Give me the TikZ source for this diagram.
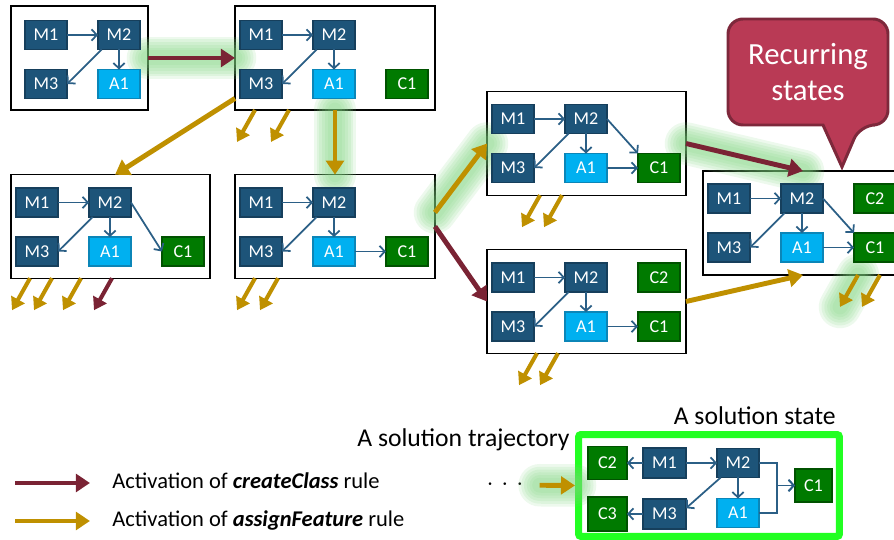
\documentclass[tikz,border=0pt]{standalone}
\usepackage{fontspec}
\setmainfont{Carlito}
\usepackage{tikz}
\usetikzlibrary{positioning, arrows.meta}
\definecolor{mblue}{HTML}{1D5479}
\definecolor{mborder}{HTML}{163F5C}
\definecolor{ablue}{HTML}{00B0F0}
\definecolor{aborder}{HTML}{0B86B8}
\definecolor{cgreen}{HTML}{007A00}
\definecolor{cborder}{HTML}{005200}
\definecolor{linkc}{HTML}{2B5F86}
\definecolor{crim}{HTML}{7A2334}
\definecolor{gold}{HTML}{BF9000}
\definecolor{glowc}{HTML}{7ED47E}
\definecolor{bubble}{HTML}{B93A55}
\definecolor{bubbleedge}{HTML}{7D283B}
\definecolor{solgreen}{HTML}{22FF22}

\begin{document}
\begin{tikzpicture}[x=0.02cm, y=-0.02cm, node distance=0.4cm and 0.62cm]
    \tikzset{
        elem/.style={rectangle, line width=1.1pt, minimum width=0.84cm, minimum height=0.58cm,
                     inner sep=0pt, outer sep=0pt, text=white, font=\fontsize{10.3}{12}\selectfont},
        method/.style={elem, draw=mborder, fill=mblue},
        attr/.style={elem, draw=aborder, fill=ablue},
        cls/.style={elem, draw=cborder, fill=cgreen},
        state/.style={rectangle, draw=black, line width=0.6pt, outer sep=0pt,
                      minimum width=4cm, minimum height=2.07cm},
        link/.style={draw=linkc, line width=1pt, -{Straight Barb[length=3pt, width=6.5pt]}},
        create/.style={draw=crim, line width=2.8pt, -{Triangle[length=8pt, width=10pt]}},
        assign/.style={draw=gold, line width=2.8pt, -{Triangle[length=8pt, width=10pt]}},
        stub/.style={line width=2.3pt, -{Triangle[length=7pt, width=8.5pt]}},
        halo/.style={preaction={draw=glowc, arrows=-, line cap=round, line width=#1, opacity=0.14}},
        glow/.style={halo=0.85cm, halo=0.74cm, halo=0.63cm, halo=0.52cm, halo=0.41cm, halo=0.3cm},
        legend/.style={inner sep=0pt, font=\fontsize{12.8}{15}\selectfont},
        caption/.style={inner sep=0pt, font=\fontsize{14.6}{17}\selectfont},
        sol/.style={draw=solgreen, line width=0.14cm, rounded corners=0.05cm,
                    minimum width=5.22cm, minimum height=2.04cm}
    }
    \useasboundingbox (0,0) rectangle (894,540);
    \clip (0,0) rectangle (894,540);

    % state frames
    \node[state, minimum width=2.74cm, minimum height=2.08cm] (s1) at (79.5,58) {};
    \node[state, minimum height=2.08cm] (s2) at (335,58) {};
    \node[state, minimum width=3.98cm] (s3) at (110.5,226.5) {};
    \node[state] (s4) at (335,226.5) {};
    \node[state, minimum width=3.98cm] (s5) at (586.5,143.5) {};
    \node[state, minimum width=3.98cm] (s6) at (586.5,301.5) {};
    \node[state, minimum height=2.08cm] (s7) at (803,223) {};

    % rule activations
    \draw[create, glow] (s1) -- (s2);
    \draw[assign] (s2.202) -- (s3.85);
    \draw[assign, glow] (s2) -- (s4);
    \draw[assign, glow] (s4.8) -- (s5.west);
    \draw[create] (s4.east) -- (s6.west);
    \draw[create, glow] (s5.east) -- (s7.north);
    \draw[assign] (s6.east) -- (s7.south);

    \draw[assign, stub] ([xshift=0.4cm]s2.south west) -- ++(-18,32);
    \draw[assign, stub] ([xshift=1.08cm]s2.south west) -- ++(-18,32);
    \draw[assign, stub] ([xshift=0.38cm]s3.south west) -- ++(-18,32);
    \draw[assign, stub] ([xshift=0.82cm]s3.south west) -- ++(-18,32);
    \draw[assign, stub] ([xshift=1.4cm]s3.south west) -- ++(-18,32);
    \draw[create, stub] ([xshift=2.02cm]s3.south west) -- ++(-18,32);
    \draw[assign, stub] ([xshift=0.4cm]s4.south west) -- ++(-18,32);
    \draw[assign, stub] ([xshift=0.86cm]s4.south west) -- ++(-18,32);
    \draw[assign, stub] ([xshift=1.06cm]s5.south west) -- ++(-18,32);
    \draw[assign, stub] ([xshift=1.5cm]s5.south west) -- ++(-18,32);
    \draw[assign, stub] ([xshift=1.0cm]s6.south west) -- ++(-18,32);
    \draw[assign, stub] ([xshift=1.42cm]s6.south west) -- ++(-18,32);
    \draw[assign, stub, glow] ([xshift=3.1cm]s7.south west) -- ++(-18,32);
    \draw[assign, stub] ([xshift=3.54cm]s7.south west) -- ++(-18,32);

    % state 1
    \node[method] (s1m1) at (46,35) {M1};
    \node[method, right=of s1m1] (s1m2) {M2};
    \node[method, below=of s1m1] (s1m3) {M3};
    \node[attr, below=of s1m2] (s1a1) {A1};
    \draw[link] (s1m1) -- (s1m2);
    \draw[link] (s1m2.220) -- (s1m3.east);
    \draw[link] (s1m2) -- (s1a1);

    % state 2
    \node[method] (s2m1) at (261,35) {M1};
    \node[method, right=of s2m1] (s2m2) {M2};
    \node[method, below=of s2m1] (s2m3) {M3};
    \node[attr, below=of s2m2] (s2a1) {A1};
    \node[cls, right=of s2a1] (s2c1) {C1};
    \draw[link] (s2m1) -- (s2m2);
    \draw[link] (s2m2.220) -- (s2m3.east);
    \draw[link] (s2m2) -- (s2a1);

    % state 3
    \node[method] (s3m1) at (37,202.5) {M1};
    \node[method, right=of s3m1] (s3m2) {M2};
    \node[method, below=of s3m1] (s3m3) {M3};
    \node[attr, below=of s3m2] (s3a1) {A1};
    \node[cls, right=of s3a1] (s3c1) {C1};
    \draw[link] (s3m1) -- (s3m2);
    \draw[link] (s3m2.220) -- (s3m3.east);
    \draw[link] (s3m2) -- (s3a1);
    \draw[link] (s3m2.east) -- (s3c1.west);

    % state 4
    \node[method] (s4m1) at (261,202.5) {M1};
    \node[method, right=of s4m1] (s4m2) {M2};
    \node[method, below=of s4m1] (s4m3) {M3};
    \node[attr, below=of s4m2] (s4a1) {A1};
    \node[cls, right=of s4a1] (s4c1) {C1};
    \draw[link] (s4m1) -- (s4m2);
    \draw[link] (s4m2.220) -- (s4m3.east);
    \draw[link] (s4m2) -- (s4a1);
    \draw[link] (s4a1) -- (s4c1);

    % state 5
    \node[method] (s5m1) at (513,119) {M1};
    \node[method, right=of s5m1] (s5m2) {M2};
    \node[method, below=of s5m1] (s5m3) {M3};
    \node[attr, below=of s5m2] (s5a1) {A1};
    \node[cls, right=of s5a1] (s5c1) {C1};
    \draw[link] (s5m1) -- (s5m2);
    \draw[link] (s5m2.220) -- (s5m3.east);
    \draw[link] (s5m2) -- (s5a1);
    \draw[link] (s5m2.east) -- (s5c1.north west);
    \draw[link] (s5a1) -- (s5c1);

    % state 6
    \node[method] (s6m1) at (513,277.5) {M1};
    \node[method, right=of s6m1] (s6m2) {M2};
    \node[cls, right=of s6m2] (s6c2) {C2};
    \node[method, below=of s6m1] (s6m3) {M3};
    \node[attr, below=of s6m2] (s6a1) {A1};
    \node[cls, right=of s6a1] (s6c1) {C1};
    \draw[link] (s6m1) -- (s6m2);
    \draw[link] (s6m2.220) -- (s6m3.east);
    \draw[link] (s6m2) -- (s6a1);
    \draw[link] (s6a1) -- (s6c1);

    % state 7
    \node[method] (s7m1) at (729,198.5) {M1};
    \node[method, right=of s7m1] (s7m2) {M2};
    \node[cls, right=of s7m2] (s7c2) {C2};
    \node[method, below=of s7m1] (s7m3) {M3};
    \node[attr, below=of s7m2] (s7a1) {A1};
    \node[cls, right=of s7a1] (s7c1) {C1};
    \draw[link] (s7m1) -- (s7m2);
    \draw[link] (s7m2.220) -- (s7m3.east);
    \draw[link] (s7m2) -- (s7a1);
    \draw[link] (s7m2.east) -- (s7c1.north west);
    \draw[link] (s7a1) -- (s7c1);

    % callout
    \draw[fill=bubble, draw=bubbleedge, line width=1.7pt]
        (823,125) [rounded corners=0.3cm] -- (728,125) -- (728,19) -- (888,19) -- (888,125)
        -- (860,125) [sharp corners] -- (842,167) -- cycle;
    \node[text=white, align=center, font=\fontsize{17.5}{21}\selectfont] (recur) at (808,72) {Recurring\\states};

    % legend
    \coordinate (k1) at (15,483);
    \coordinate (k2) at (15,521);
    \node[legend, anchor=base west] (leg1) at (112,489) {Activation of \textbf{\textit{createClass}} rule};
    \node[legend, anchor=base west] (leg2) at (112,527) {Activation of \textbf{\textit{assignFeature}} rule};
    \draw[create, shorten >=0.44cm] (k1) -- (k1 -| leg1.west);
    \draw[assign, shorten >=0.44cm] (k2) -- (k2 -| leg2.west);

    % solution state
    \node[sol] (sol) at (709,485.5) {};
    \node[caption, anchor=base east] (solstate) at (836,425) {A solution state};
    \node[caption, anchor=base east] (soltraj) at (570,447) {A solution trajectory};
    \node[font=\fontsize{14.6}{17}\selectfont] (dots) at (505,485) {$\cdot$\hspace{4.5pt}$\cdot$\hspace{4.5pt}$\cdot$};
    \draw[assign, glow, shorten <=0.2cm] (dots) -- (sol.west);
    \node[method, minimum width=0.86cm, minimum height=0.6cm] (z1) at (664.5,463) {M1};
    \node[method, right=of z1] (z2) {M2};
    \node[cls, minimum width=0.78cm, minimum height=0.66cm, left=0.32cm of z1] (zc2) {C2};
    \node[method, minimum width=0.86cm, minimum height=0.6cm, below=0.42cm of z1] (z3) {M3};
    \node[attr, below=0.42cm of z2] (za1) {A1};
    \node[cls, minimum width=0.78cm, minimum height=0.68cm, left=0.32cm of z3] (zc3) {C3};
    \node[cls, minimum width=0.74cm, minimum height=0.66cm] (zc1) at (813.5,485.5) {C1};
    \draw[link] (z1) -- (zc2);
    \draw[link] (z1) -- (z2);
    \draw[link] (z2.220) -- (z3.15);
    \draw[link] (z2) -- (za1);
    \draw[link] (z3) -- (zc3);
    \draw[link] (z2.east) -- ++(18,0) |- (zc1.west);
    \draw[link] (za1.east) -- ++(18,0) |- (zc1.west);
\end{tikzpicture}
\end{document}
